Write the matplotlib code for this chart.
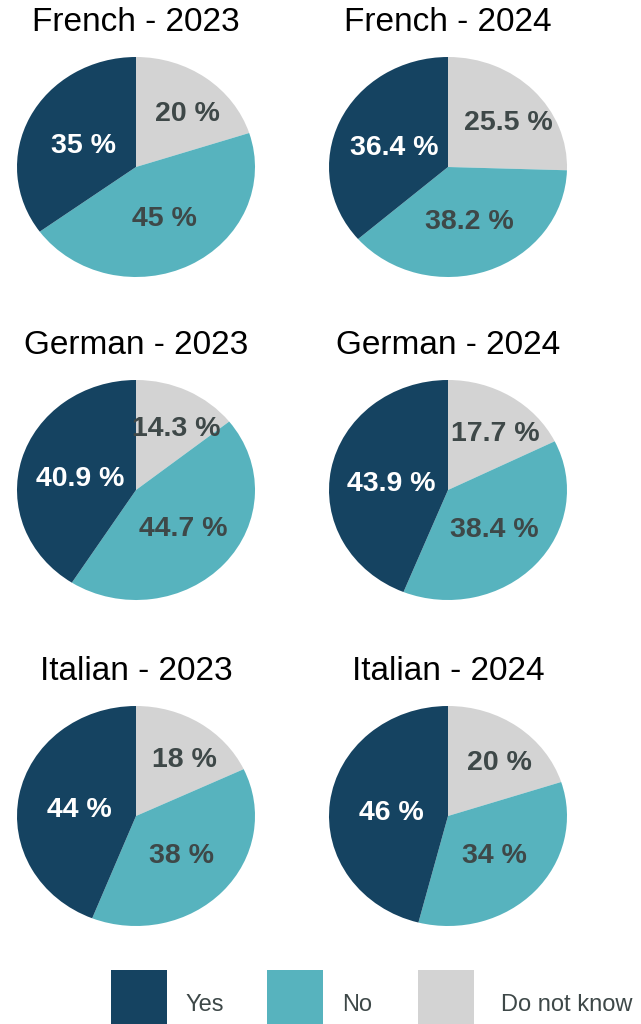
import matplotlib.pyplot as plt
from matplotlib.patches import Rectangle
import numpy as np

plt.rcParams['font.family'] = ['Liberation Sans', 'DejaVu Sans']

languages = ['French', 'German', 'Italian']
years = ['2023', '2024']
categories = ['Yes', 'No', 'Do not know']

# shares per language, [2023, 2024]
yes = [[35, 36.4], [40.9, 43.9], [44, 46]]
no = [[45, 38.2], [44.7, 38.4], [38, 34]]
dont_know = [[20, 25.5], [14.3, 17.7], [18, 20]]

c_yes = '#154361'
c_no = '#57b3be'
c_dnk = '#d3d3d3'
dark_text = '#3e4848'

W, H = 641, 1024
fig = plt.figure(figsize=(W / 100, H / 100), dpi=100)

col_x = [136, 448]
row_y = [167, 490, 816]
pw, ph = 238, 220

# label radius / angle shift per wedge (dnk, no, yes)
lab_r = [0.65, 0.53, 0.48]
lab_shift = [-6, 0, 4]

for i, lang in enumerate(languages):
    for j, yr in enumerate(years):
        cx, cy = col_x[j], row_y[i]
        ax = fig.add_axes([(cx - pw / 2) / W, (H - cy - ph / 2) / H, pw / W, ph / H])
        vals = [dont_know[i][j], no[i][j], yes[i][j]]
        wedges, _ = ax.pie(vals, colors=[c_dnk, c_no, c_yes], startangle=90,
                           counterclock=False, radius=1,
                           wedgeprops=dict(linewidth=0))
        ax.set_aspect('auto')
        ax.set_xlim(-1, 1)
        ax.set_ylim(-1, 1)
        for k, w in enumerate(wedges):
            mid = np.deg2rad((w.theta1 + w.theta2) / 2 + lab_shift[k])
            col = 'white' if k == 2 else dark_text
            ax.text(lab_r[k] * np.cos(mid), lab_r[k] * np.sin(mid), f'{vals[k]:g} %',
                    ha='center', va='center', fontsize=20.5, fontweight='bold',
                    color=col)
        ax.set_title(f'{lang} - {yr}', fontsize=24, pad=19, color='black')

# legend along the bottom
lax = fig.add_axes([0, 0, 1, 1])
lax.set_xlim(0, W)
lax.set_ylim(H, 0)
lax.axis('off')
sq_x = [111, 267, 418]
txt_x = [186, 342, 501]
for k, (lab, col) in enumerate(zip(categories, [c_yes, c_no, c_dnk])):
    lax.add_patch(Rectangle((sq_x[k], 970), 56, 60, facecolor=col, edgecolor='none'))
    lax.text(txt_x[k], 1011, lab, fontsize=17, color=dark_text, va='baseline', ha='left')

fig.savefig('out.png', dpi=100)
